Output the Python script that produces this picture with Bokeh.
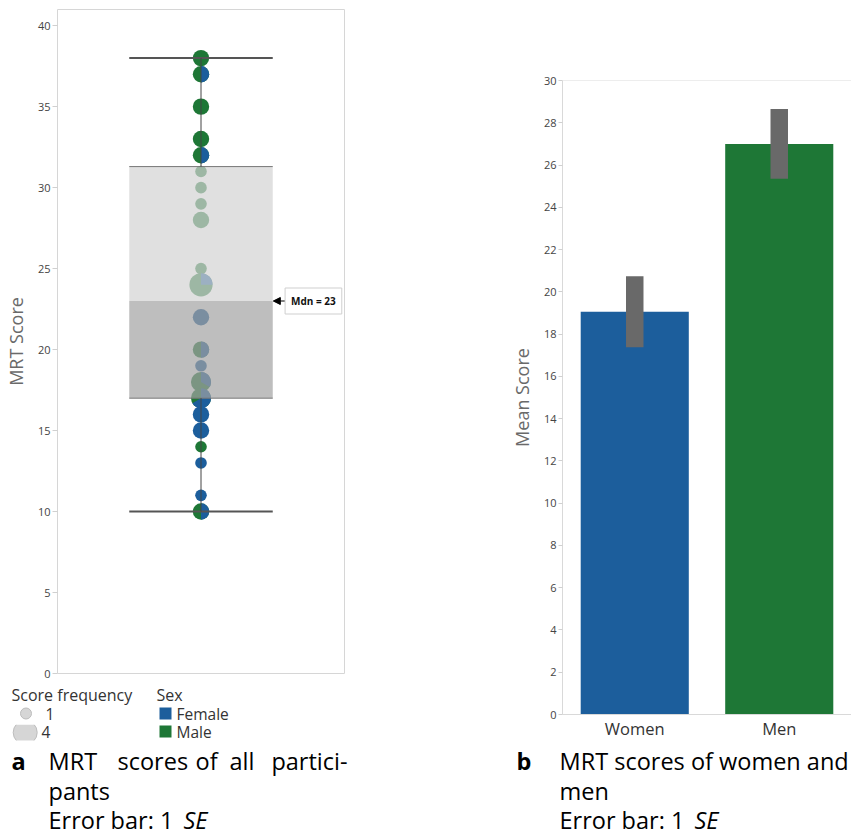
import math
from bokeh.plotting import figure
from bokeh.layouts import row, column
from bokeh.models import (Range1d, FactorRange, FixedTicker, Label, Arrow,
                          NormalHead, Span, ColumnDataSource)
from bokeh.core.properties import value
from bokeh.embed import file_html
from bokeh.resources import INLINE

# ---------------- data ----------------
scores = [38, 37, 35, 33, 32, 31, 30, 29, 28, 25, 24, 22, 20, 19, 18, 17, 16, 15, 14, 13, 11, 10]
male_count = [2, 1, 2, 2, 1, 1, 1, 1, 2, 1, 3, 0, 1, 0, 2, 1, 0, 0, 1, 0, 0, 1]
female_count = [0, 1, 0, 0, 1, 0, 0, 0, 0, 0, 1, 2, 1, 1, 1, 2, 2, 2, 0, 1, 1, 1]
whisker_low = 10
q1 = 17
median = 23
q3 = 31.3
whisker_high = 38
ticks_a = [0, 5, 10, 15, 20, 25, 30, 35, 40]

groups = ["Women", "Men"]
mean_scores = [19.06, 27.0]
se_scores = [1.68, 1.65]
ticks_b = [0, 2, 4, 6, 8, 10, 12, 14, 16, 18, 20, 22, 24, 26, 28, 30]

FEMALE = "#1c5e9c"
MALE = "#1e7736"
FONT_NAME = "Open Sans"
FONT = value(FONT_NAME)
CAP_FONT = value("Open Sans")
CAP_SIZE = "23.5px"

# ---------------- panel a ----------------
pA = figure(width=360, height=680, x_range=Range1d(0, 1), y_range=Range1d(0, 41),
            output_backend="svg", toolbar_location=None, x_axis_type=None,
            min_border_left=54, min_border_right=16, min_border_top=9, min_border_bottom=7)
pA.frame_align = False
pA.xgrid.visible = False
pA.ygrid.visible = False
pA.outline_line_color = "#d6d6d6"
pA.outline_line_width = 1
ya = pA.yaxis[0]
ya.ticker = FixedTicker(ticks=ticks_a)
ya.axis_line_color = None
ya.major_tick_line_color = "#d0d0d0"
ya.major_tick_out = 5
ya.major_tick_in = 0
ya.minor_tick_line_color = None
ya.major_label_standoff = 2
ya.major_label_text_font = FONT_NAME
ya.major_label_text_font_size = "11px"
ya.major_label_text_color = "#444444"
ya.axis_label = "MRT Score"
ya.axis_label_text_font = FONT_NAME
ya.axis_label_text_font_size = "18px"
ya.axis_label_text_font_style = "normal"
ya.axis_label_text_color = "#6a6a6a"
ya.axis_label_standoff = 7

n_tot = [m + f for m, f in zip(male_count, female_count)]
radii = [5.8 * math.sqrt(n) for n in n_tot]
base_col = [MALE if m > 0 else FEMALE for m in male_count]
src = ColumnDataSource(dict(x=[0.5] * len(scores), y=scores, r=radii, c=base_col))
pA.circle(x="x", y="y", radius="r", radius_units="screen", fill_color="c",
          line_color=None, source=src)

mix = [i for i in range(len(scores)) if male_count[i] > 0 and female_count[i] > 0]
wsrc = ColumnDataSource(dict(
    x=[0.5] * len(mix),
    y=[scores[i] for i in mix],
    r=[radii[i] for i in mix],
    s=[math.pi / 2] * len(mix),
    e=[math.pi / 2 - 2 * math.pi * female_count[i] / n_tot[i] for i in mix],
))
pA.wedge(x="x", y="y", radius="r", radius_units="screen", start_angle="s",
         end_angle="e", direction="clock", fill_color=FEMALE, line_color=None, source=wsrc)

# box (semi-transparent over points)
pA.quad(left=[0.25], right=[0.75], bottom=[median], top=[q3],
        fill_color="#d3d3d3", fill_alpha=0.7, line_color=None)
pA.quad(left=[0.25], right=[0.75], bottom=[q1], top=[median],
        fill_color="#a2a2a2", fill_alpha=0.7, line_color=None)
pA.segment(x0=[0.25, 0.25], x1=[0.75, 0.75], y0=[q1, q3], y1=[q1, q3],
           line_color="#777777", line_width=1)
pA.segment(x0=[0.25, 0.25], x1=[0.75, 0.75], y0=[whisker_low, whisker_high],
           y1=[whisker_low, whisker_high], line_color="#555555", line_width=2)
pA.segment(x0=[0.5, 0.5], x1=[0.5, 0.5], y0=[whisker_low, q3], y1=[q1, whisker_high],
           line_color="#444444", line_width=1)

pA.add_layout(Arrow(end=NormalHead(size=7, fill_color="black", line_color="black"),
                    x_start=0.793, y_start=median, x_end=0.752, y_end=median,
                    line_color="black", line_width=1))
pA.add_layout(Label(x=0.793, y=median, text="Mdn = %d" % median, text_font=FONT_NAME,
                    text_font_size="10px", text_font_style="bold", text_color="#111111",
                    text_baseline="middle", text_align="left",
                    border_line_color="#cfcfcf", background_fill_color="white", padding=6))

# ---------------- legend + caption a ----------------
def text_fig(w, h, x0, x1, y0, y1):
    f = figure(width=w, height=h, x_range=Range1d(x0, x1), y_range=Range1d(y1, y0),
               output_backend="svg", toolbar_location=None, x_axis_type=None,
               y_axis_type=None, min_border=0)
    f.frame_align = False
    f.outline_line_color = None
    f.xgrid.visible = False
    f.ygrid.visible = False
    return f

fA = text_fig(360, 154, 0, 360, 680, 834)
fA.circle(x=[25.5], y=[713], radius=5.5, radius_units="screen",
          fill_color="#d6d6d6", line_color="#bdbdbd")
fA.circle(x=[24.7], y=[732], radius=12, radius_units="screen",
          fill_color="#d6d6d6", line_color="#bdbdbd")
fA.quad(left=[8, 8], right=[42, 42], bottom=[719.6, 740], top=[724.3, 747],
        fill_color="white", line_color=None)
fA.scatter(x=[165, 165], y=[713, 731], marker="square", size=12,
           fill_color=[FEMALE, MALE], line_color=None)
fA.text(x=[11, 156], y=[694, 694], text=["Score frequency", "Sex"], text_font=FONT,
        text_font_size="16px", text_baseline="middle", text_color="#333333")
fA.text(x=[45, 41, 176, 176], y=[713, 731, 713, 731], text=["1", "4", "Female", "Male"],
        text_font=FONT, text_font_size="15.5px", text_baseline="middle", text_color="#333333")
fA.text(x=[11], y=[760], text=["a"], text_font=CAP_FONT, text_font_size=CAP_SIZE,
        text_font_style="bold", text_baseline="middle", text_color="black")
fA.text(x=[48, 117, 195, 229], y=[760, 760, 760, 760], text=["MRT", "scores", "of", "all"],
        text_font=CAP_FONT, text_font_size=CAP_SIZE, text_baseline="middle", text_color="black")
fA.text(x=[48, 48], y=[790, 819], text=["pants", "Error bar: 1"],
        text_font=CAP_FONT, text_font_size=CAP_SIZE, text_baseline="middle", text_color="black")
fA.text(x=[347], y=[760], text=["partici-"], text_font=CAP_FONT, text_font_size=CAP_SIZE,
        text_baseline="middle", text_align="right", text_color="black")
fA.text(x=[183], y=[819], text=["SE"], text_font=CAP_FONT, text_font_size=CAP_SIZE,
        text_font_style="italic", text_baseline="middle", text_color="black")

# ---------------- panel b ----------------
pB = figure(width=491, height=742, x_range=FactorRange(factors=groups, range_padding=0),
            y_range=Range1d(0, 30), output_backend="svg", toolbar_location=None,
            min_border_left=202, min_border_right=0, min_border_top=80, min_border_bottom=25)
pB.frame_align = False
pB.xgrid.visible = False
pB.ygrid.visible = False
pB.outline_line_color = None
pB.vbar(x=groups, top=mean_scores, width=0.748, fill_color=[FEMALE, MALE], line_color=None)
lo = [m - s for m, s in zip(mean_scores, se_scores)]
hi = [m + s for m, s in zip(mean_scores, se_scores)]
pB.vbar(x=groups, bottom=lo, top=hi, width=0.121, fill_color="#696969", line_color=None)
pB.add_layout(Span(location=30, dimension="width", line_color="#dcdcdc", line_width=1))

yb = pB.yaxis[0]
yb.ticker = FixedTicker(ticks=ticks_b)
yb.axis_line_color = "#d9d9d9"
yb.major_tick_line_color = "#d0d0d0"
yb.major_tick_out = 4
yb.major_tick_in = 0
yb.minor_tick_line_color = None
yb.major_label_standoff = 2
yb.major_label_text_font = FONT_NAME
yb.major_label_text_font_size = "11px"
yb.major_label_text_color = "#444444"
yb.axis_label = "Mean Score"
yb.axis_label_text_font = FONT_NAME
yb.axis_label_text_font_size = "18px"
yb.axis_label_text_font_style = "normal"
yb.axis_label_text_color = "#6a6a6a"
yb.axis_label_standoff = 7

xb = pB.xaxis[0]
xb.axis_line_color = "#d9d9d9"
xb.major_tick_line_color = None
xb.major_tick_out = 0
xb.major_tick_in = 0
xb.minor_tick_line_color = None
xb.minor_tick_out = 0
xb.major_label_standoff = 2
xb.major_label_text_font = FONT_NAME
xb.major_label_text_font_size = "16.5px"
xb.major_label_text_color = "#333333"

fB = text_fig(491, 92, 360, 851, 742, 834)
fB.text(x=[516], y=[760], text=["b"], text_font=CAP_FONT, text_font_size=CAP_SIZE,
        text_font_style="bold", text_baseline="middle", text_color="black")
fB.text(x=[559, 559, 559], y=[760, 790, 819], text=["MRT scores of women and", "men", "Error bar: 1"],
        text_font=CAP_FONT, text_font_size=CAP_SIZE, text_baseline="middle", text_color="black")
fB.text(x=[694], y=[819], text=["SE"], text_font=CAP_FONT, text_font_size=CAP_SIZE,
        text_font_style="italic", text_baseline="middle", text_color="black")

layout = row(column(pA, fA), column(pB, fB))
open("out.html", "w").write(file_html(layout, INLINE))
